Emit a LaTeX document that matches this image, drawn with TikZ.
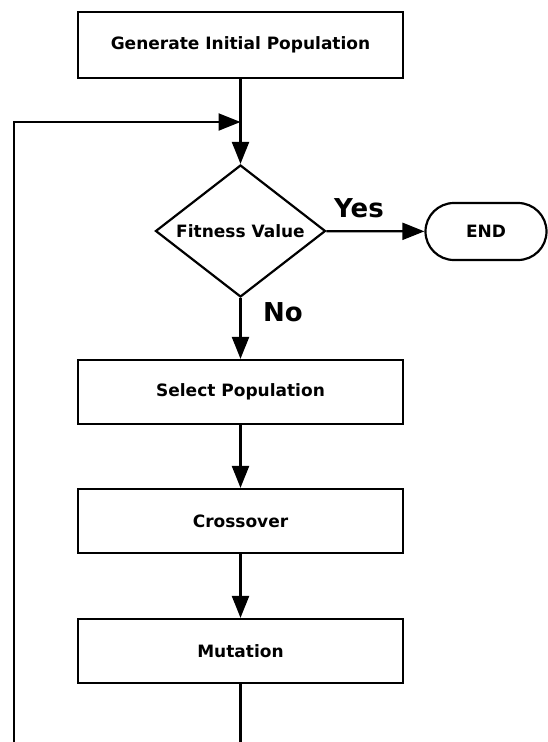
\documentclass[tikz,border=0pt]{standalone}
\usepackage{fontspec}
\setmainfont{DejaVu Sans}
\usetikzlibrary{shapes.geometric,shapes.misc,arrows.meta}
\begin{document}
\begin{tikzpicture}[x=1pt,y=-1pt,
  line width=2.2pt,
  flow/.style={-{Triangle[length=22pt,width=17pt]}},
  boxfont/.style={font=\fontsize{17}{19}\selectfont\bfseries},
  stepbox/.style={draw,rectangle,minimum width=325pt,minimum height=64pt,inner sep=0pt,boxfont},
  test/.style={draw,diamond,aspect=1.29,minimum width=170pt,minimum height=132pt,inner sep=0pt,boxfont},
  term/.style={draw,rounded rectangle,minimum width=121pt,minimum height=57pt,inner sep=0pt,boxfont},
  lbl/.style={font=\fontsize{26}{28}\selectfont\bfseries}]
\useasboundingbox (0,0) rectangle (548,742);
\node[stepbox,minimum height=66pt] (gen) at (240.5,45) {Generate Initial Population};
\node[test] (fit) at (240.5,231) {Fitness Value};
\node[term] (end) at (486,231.5) {END};
\node[stepbox] (sel) at (240.5,392) {Select Population};
\node[stepbox] (cro) at (240.5,521) {Crossover};
\node[stepbox] (mut) at (240.5,651) {Mutation};
\node[lbl] (yes) at (359,208) {Yes};
\node[lbl] (no) at (283,312) {No};
% loop back from the bottom of the chart into the test
\coordinate (lb) at (14,742);
\coordinate (lc) at (14,122);
\coordinate (lj) at (240.5,122);
\coordinate (mb) at (240.5,742);
\draw[flow] (gen) -- (fit);
\draw[flow] (lb) -- (lc) -- (lj);
\draw[flow] (fit) -- (end);
\draw[flow] (fit) -- (sel);
\draw[flow] (sel) -- (cro);
\draw[flow] (cro) -- (mut);
\draw (mut) -- (mb);
\end{tikzpicture}
\end{document}
